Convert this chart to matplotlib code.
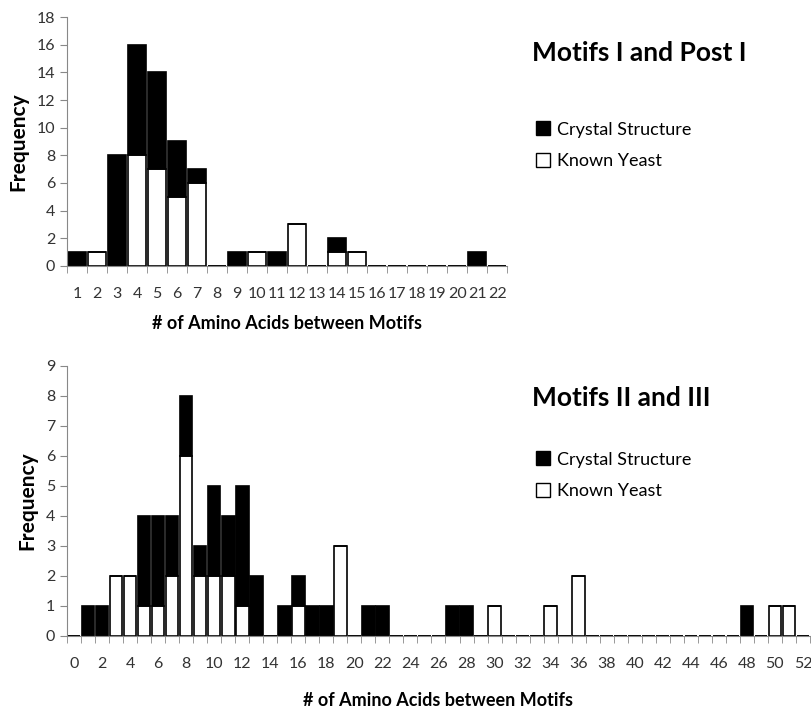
import numpy as np
import matplotlib
matplotlib.use("Agg")
from matplotlib import pyplot as plt
from matplotlib.patches import Patch

plt.rcParams['font.family'] = ['Lato', 'DejaVu Sans']

# Motifs I and Post I : categories 1..22
cat_top = list(range(1, 23))
yeast_top = [0, 1, 0, 8, 7, 5, 6, 0, 0, 1, 0, 3, 0, 1, 1, 0, 0, 0, 0, 0, 0, 0]
crystal_top = [1, 0, 8, 8, 7, 4, 1, 0, 1, 0, 1, 0, 0, 1, 0, 0, 0, 0, 0, 0, 1, 0]

# Motifs II and III : categories 0..52
cat_bot = list(range(0, 53))
yeast_bot = {3: 2, 4: 2, 5: 1, 6: 1, 7: 2, 8: 6, 9: 2, 10: 2, 11: 2, 12: 1,
             16: 1, 19: 3, 30: 1, 34: 1, 36: 2, 50: 1, 51: 1}
crystal_bot = {1: 1, 2: 1, 5: 3, 6: 3, 7: 2, 8: 2, 9: 1, 10: 3, 11: 2, 12: 4,
               13: 2, 15: 1, 16: 1, 17: 1, 18: 1, 21: 1, 22: 1, 27: 1, 28: 1, 48: 1}
yb = [yeast_bot.get(c, 0) for c in cat_bot]
cb = [crystal_bot.get(c, 0) for c in cat_bot]

fig = plt.figure(figsize=(8.12, 7.11), dpi=100)
ax1 = fig.add_axes([0.0825, 0.626, 0.542, 0.35])
ax2 = fig.add_axes([0.0825, 0.1055, 0.915, 0.38])

def style(ax, cats, ymax, ystep, labstep):
    ax.set_xlim(cats[0] - 0.5, cats[-1] + 0.5)
    ax.set_ylim(0, ymax)
    ax.set_yticks(np.arange(0, ymax + 1, ystep))
    ax.set_xticks(cats[::labstep])
    ax.set_xticks(np.arange(cats[0] - 0.5, cats[-1] + 1, 1), minor=True)
    ax.tick_params(axis='x', which='major', length=0, pad=15, labelsize=11.5, colors='#333333')
    ax.tick_params(axis='x', which='minor', length=5, color='#888888', direction='out')
    ax.tick_params(axis='y', length=5, color='#888888', direction='out', labelsize=11.5, colors='#333333')
    for s in ['top', 'right']:
        ax.spines[s].set_visible(False)
    for s in ['left', 'bottom']:
        ax.spines[s].set_color('#888888')
    ax.set_ylabel('Frequency', fontsize=15, fontweight='bold', labelpad=6)
    ax.set_xlabel('# of Amino Acids between Motifs', fontsize=13, fontweight='bold', labelpad=10)

ax1.bar(cat_top, yeast_top, width=0.9, color='white', edgecolor='black', linewidth=1.2)
ax1.bar(cat_top, crystal_top, width=0.9, bottom=yeast_top, color='black', edgecolor='black', linewidth=1.2)
style(ax1, cat_top, 18, 2, 1)

ax2.bar(cat_bot, yb, width=0.9, color='white', edgecolor='black', linewidth=1.2)
ax2.bar(cat_bot, cb, width=0.9, bottom=yb, color='black', edgecolor='black', linewidth=1.2)
style(ax2, cat_bot, 9, 1, 2)
ax2.xaxis.labelpad = 15

handles = [Patch(facecolor='black', edgecolor='black', label='Crystal Structure'),
           Patch(facecolor='white', edgecolor='black', label='Known Yeast')]

fig.text(0.655, 0.925, 'Motifs I and Post I', fontsize=19, fontweight='bold', va='center')
fig.legend(handles=handles, loc='upper left', bbox_to_anchor=(0.64, 0.852), frameon=False,
           fontsize=13, handlelength=0.8, handleheight=0.8, handletextpad=0.35, labelspacing=0.85)

fig.text(0.655, 0.44, 'Motifs II and III', fontsize=19, fontweight='bold', va='center')
fig.legend(handles=handles, loc='upper left', bbox_to_anchor=(0.64, 0.388), frameon=False,
           fontsize=13, handlelength=0.8, handleheight=0.8, handletextpad=0.35, labelspacing=0.85)

plt.savefig('out.png', dpi=100)
